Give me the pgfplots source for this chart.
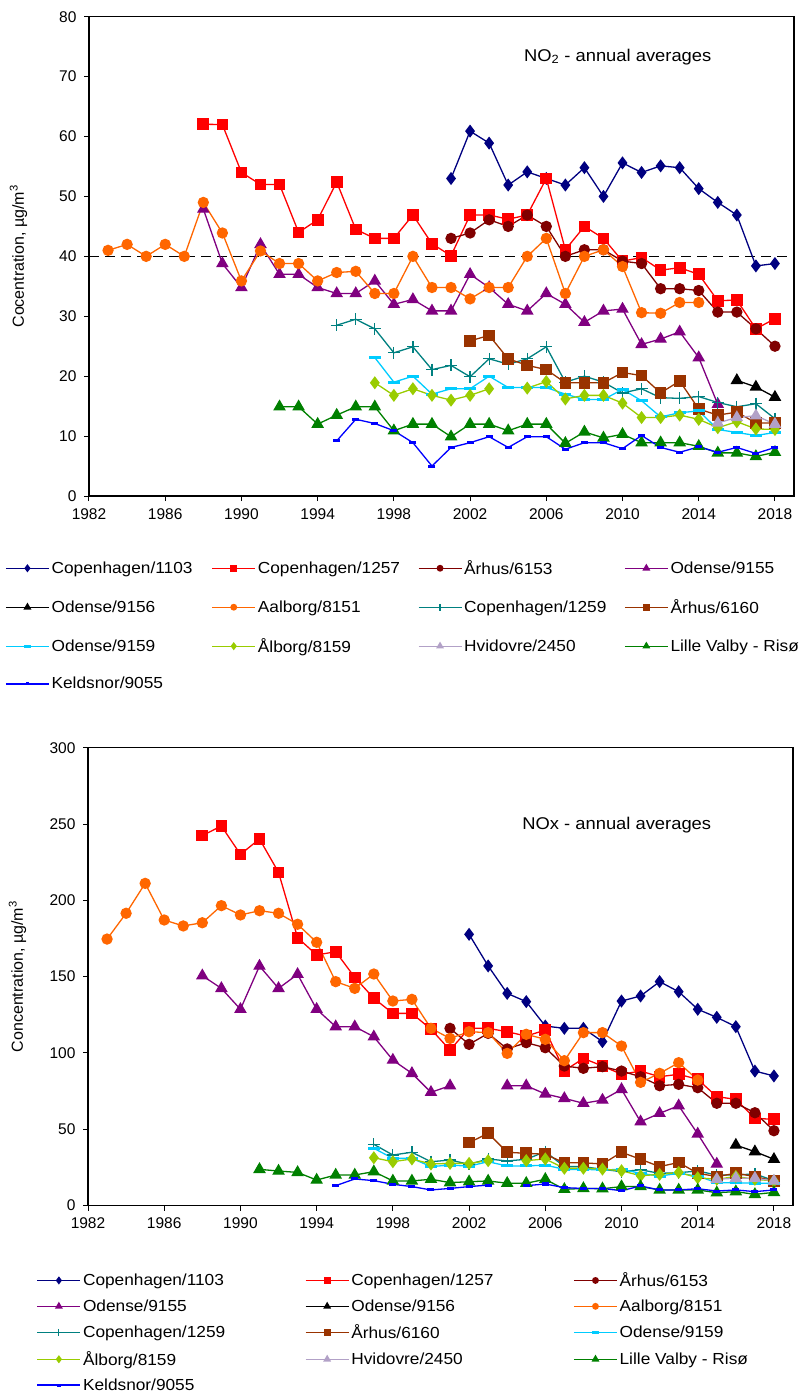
\documentclass[border=0pt]{standalone}
\usepackage{fontspec}
\setmainfont{Liberation Sans}
\newfontfamily\legfont{Liberation Sans}[FakeStretch=1.08]
\usepackage{pgfplots}
\pgfplotsset{compat=1.18}
\definecolor{cnavy}{HTML}{000080}
\definecolor{cred}{HTML}{FF0000}
\definecolor{cdred}{HTML}{800000}
\definecolor{cpurple}{HTML}{800080}
\definecolor{corange}{HTML}{FF6600}
\definecolor{cteal}{HTML}{008080}
\definecolor{cbrown}{HTML}{993300}
\definecolor{ccyan}{HTML}{00CCFF}
\definecolor{cygreen}{HTML}{99CC00}
\definecolor{clav}{HTML}{B2A1C7}
\definecolor{cgreen}{HTML}{008000}
\definecolor{cblue}{HTML}{0000FF}
\newcommand{\fs}{\fontsize{15.5}{17}\selectfont}
\newcommand{\lfs}{\legfont\fontsize{16}{18}\selectfont}
\newcommand{\tfs}{\legfont\fontsize{17}{19}\selectfont}
\pgfplotsset{
 base/.style={line width=1.3pt},
 sA/.style={base, color=cnavy, mark=diamond*, mark size=5.5pt, mark options={solid, fill=cnavy}},
 sB/.style={base, color=cred, mark=square*, mark size=5.2pt, mark options={solid, fill=cred}},
 sC/.style={base, color=cdred, mark=*, mark size=5pt, mark options={solid, fill=cdred}},
 sD/.style={base, color=cpurple, mark=triangle*, mark size=6pt, mark options={solid, fill=cpurple}},
 sE/.style={base, color=black, mark=triangle*, mark size=6pt, mark options={solid, fill=black}},
 sF/.style={base, color=corange, mark=*, mark size=5pt, mark options={solid, fill=corange}},
 sG/.style={base, color=cteal, mark=+, mark size=6pt, mark options={solid, line width=1.2pt}},
 sH/.style={base, color=cbrown, mark=square*, mark size=5.2pt, mark options={solid, fill=cbrown}},
 sI/.style={base, color=ccyan, mark=-, mark size=6pt, mark options={solid, line width=3pt}},
 sJ/.style={base, color=cygreen, mark=diamond*, mark size=5.5pt, mark options={solid, fill=cygreen}},
 sK/.style={base, color=clav, mark=triangle*, mark size=6pt, mark options={solid, fill=clav}},
 sL/.style={base, color=cgreen, mark=triangle*, mark size=6pt, mark options={solid, fill=cgreen}},
 sM/.style={base, color=cblue, mark=-, mark size=3.5pt, mark options={solid, line width=3pt}},
 myaxis/.style={scale only axis, width=705pt, xmin=1982, xmax=2019,
   xtick={1982,1986,...,2018}, minor x tick num=3, ymin=0,
   tick pos=left, tick align=outside, major tick length=5pt, minor tick length=5pt,
   every tick/.style={black, line width=1pt}, axis line style={line width=1.2pt},
   /pgf/number format/assume math mode=true, /pgf/number format/1000 sep={},
   tick label style={font=\fs}, yticklabel style={xshift=-4pt}, xticklabel style={yshift=-4pt},
   label style={font=\fontsize{16}{18}\selectfont}, unbounded coords=jump, clip=false,
   legend cell align=left,
   legend image code/.code={\draw[mark repeat=2,mark phase=2] plot coordinates {(0pt,0pt) (21.5pt,0pt) (43pt,0pt)};},
   legend image post style={/tikz/every mark/.append style={scale=0.55}},
   legend style={draw=none, fill=none, font=\lfs, inner sep=0pt}}
}
\begin{document}
\begin{tikzpicture}[x=1pt,y=1pt]
\path[use as bounding box] (0,0) rectangle (801,-1396);
% ---------------- NO2 ----------------
\begin{axis}[myaxis, at={(89pt,-496pt)}, anchor=south west, height=479.3pt, ymax=80, ytick={0,10,...,80},
  ylabel={Cocentration, µg/m\textsuperscript{3}}, ylabel style={at={(axis description cs:-0.1,0.5)}, anchor=center},
  legend columns=4, legend style={at={(axis description cs:-0.119,-0.13)}, anchor=north west, row sep=19.5pt}]
\addplot[forget plot, black, line width=1.5pt, dash pattern=on 10pt off 6pt] coordinates {(1982,40) (2019,40)};
\addplot[sA] coordinates {(2001,53.0)(2002,60.9)(2003,58.9)(2004,51.9)(2005,54.1)(2006,53.0)(2007,51.9)(2008,54.8)(2009,50.0)(2010,55.6)(2011,54.0)(2012,55.1)(2013,54.8)(2014,51.3)(2015,49.0)(2016,46.9)(2017,38.4)(2018,38.8)};
\addlegendentry{\makebox[158pt][l]{Copenhagen/1103}}
\addplot[sB] coordinates {(1988,62.05)(1989,62)(1990,54)(1991,52)(1992,52)(1993,44)(1994,46.1)(1995,52.4)(1996,44.5)(1997,43)(1998,43)(1999,46.9)(2000,42.1)(2001,40.1)(2002,46.9)(2003,46.9)(2004,46.2)(2005,46.9)(2006,53)(2007,41.1)(2008,45)(2009,43)(2010,39.2)(2011,39.8)(2012,37.7)(2013,38.1)(2014,37)(2015,32.6)(2016,32.7)(2017,27.9)(2018,29.6)};
\addlegendentry{\makebox[158pt][l]{Copenhagen/1257}}
\addplot[sC] coordinates {(2001,43)(2002,43.9)(2003,46.1)(2004,45)(2005,46.9)(2006,45)(2007,40)(2008,41.1)(2009,41.1)(2010,39.2)(2011,38.8)(2012,34.6)(2013,34.6)(2014,34.3)(2015,30.7)(2016,30.7)(2017,27.9)(2018,25.0)};
\addlegendentry{\makebox[158pt][l]{Århus/6153}}
\addplot[sD] coordinates {(1988,47.9)(1989,38.8)(1990,34.8)(1991,42)(1992,37)(1993,37)(1994,34.8)(1995,33.8)(1996,33.8)(1997,35.9)(1998,32)(1999,32.8)(2000,30.9)(2001,30.9)(2002,37)(2003,34.8)(2004,32)(2005,30.9)(2006,33.8)(2007,32)(2008,29)(2009,30.9)(2010,31.2)(2011,25.3)(2012,26.2)(2013,27.4)(2014,23.1)(2015,15.3)};
\addlegendentry{\makebox[158pt][l]{Odense/9155}}
\addplot[sE] coordinates {(2016,19.3)(2017,18.2)(2018,16.5)};
\addlegendentry{\makebox[158pt][l]{Odense/9156}}
\addplot[sF] coordinates {(1983,41)(1984,42)(1985,40)(1986,42)(1987,40)(1988,49)(1989,43.9)(1990,35.9)(1991,40.9)(1992,38.8)(1993,38.8)(1994,35.9)(1995,37.3)(1996,37.5)(1997,33.8)(1998,33.8)(1999,40)(2000,34.8)(2001,34.8)(2002,32.9)(2003,34.8)(2004,34.8)(2005,40)(2006,43)(2007,33.8)(2008,40)(2009,41.1)(2010,38.3)(2011,30.6)(2012,30.5)(2013,32.3)(2014,32.3)};
\addlegendentry{\makebox[158pt][l]{Aalborg/8151}}
\addplot[sG] coordinates {(1995,28.5)(1996,29.5)(1997,27.9)(1998,23.9)(1999,24.9)(2000,21.1)(2001,21.8)(2002,19.9)(2003,22.9)(2004,22.0)(2005,22.9)(2006,24.9)(2007,19.0)(2008,20.0)(2009,19.0)(2010,17.2)(2011,17.9)(2012,16.4)(2013,16.3)(2014,16.6)(2015,15.6)(2016,14.9)(2017,15.4)(2018,12.9)};
\addlegendentry{\makebox[158pt][l]{Copenhagen/1259}}
\addplot[sH] coordinates {(2002,25.9)(2003,26.8)(2004,22.9)(2005,21.8)(2006,21.1)(2007,18.9)(2008,18.9)(2009,18.9)(2010,20.6)(2011,20.1)(2012,17.2)(2013,19.2)(2014,14.5)(2015,13.5)(2016,14.0)(2017,12.2)(2018,12.2)};
\addlegendentry{\makebox[158pt][l]{Århus/6160}}
\addplot[sI] coordinates {(1997,23.1)(1998,19)(1999,20)(2000,17)(2001,17.9)(2002,17.9)(2003,20)(2004,18.1)(2005,18.1)(2006,18.1)(2007,17)(2008,16.1)(2009,16.1)(2010,17.8)(2011,15.9)(2012,13.2)(2013,13.9)(2014,14.2)(2015,11.1)(2016,10.6)(2017,10.1)(2018,10.6)};
\addlegendentry{\makebox[158pt][l]{Odense/9159}}
\addplot[sJ] coordinates {(1997,18.9)(1998,16.8)(1999,17.9)(2000,16.8)(2001,16.0)(2002,16.8)(2003,17.9)(2004,nan)(2005,18.0)(2006,19.1)(2007,16.2)(2008,16.8)(2009,16.8)(2010,15.5)(2011,13.1)(2012,13.1)(2013,13.5)(2014,12.8)(2015,11.4)(2016,12.4)(2017,11.2)(2018,11.1)};
\addlegendentry{\makebox[158pt][l]{Ålborg/8159}}
\addplot[sK] coordinates {(2015,12.2)(2016,13.1)(2017,13.4)(2018,12.0)};
\addlegendentry{\makebox[158pt][l]{Hvidovre/2450}}
\addplot[sL] coordinates {(1992,14.9)(1993,14.9)(1994,12.0)(1995,13.5)(1996,14.9)(1997,14.9)(1998,10.9)(1999,12)(2000,12)(2001,9.9)(2002,12)(2003,12)(2004,10.9)(2005,12)(2006,12)(2007,8.8)(2008,10.7)(2009,9.7)(2010,10.3)(2011,8.9)(2012,8.9)(2013,8.9)(2014,8.3)(2015,7.2)(2016,7.2)(2017,6.6)(2018,7.3)};
\addlegendentry{\makebox[158pt][l]{Lille Valby - Risø}}
\addplot[sM] coordinates {(1995,9.2)(1996,12.8)(1997,12.1)(1998,10.9)(1999,8.9)(2000,5.0)(2001,8.1)(2002,8.9)(2003,9.9)(2004,8.1)(2005,9.9)(2006,9.9)(2007,7.8)(2008,8.9)(2009,8.9)(2010,7.9)(2011,10.1)(2012,8.1)(2013,7.3)(2014,8.2)(2015,7.3)(2016,8.1)(2017,7.1)(2018,8.1)};
\addlegendentry{\makebox[158pt][l]{Keldsnor/9055}}
\node[font=\tfs] at (axis description cs:0.75,0.916) {NO\textsubscript{2} - annual averages};
\end{axis}
% ---------------- NOx ----------------
\begin{axis}[myaxis, at={(88pt,-1205.5pt)}, anchor=south west, height=457.8pt, ymax=300, ytick={0,50,...,300},
  ylabel={Concentration, µg/m\textsuperscript{3}}, ylabel style={at={(axis description cs:-0.1,0.5)}, anchor=center},
  legend columns=3, legend style={at={(axis description cs:-0.073,-0.142)}, anchor=north west, row sep=7.6pt}]
\addplot[sA] coordinates {(2002,177.7)(2003,157)(2004,139)(2005,133.6)(2006,117.6)(2007,116.1)(2008,116.1)(2009,107.4)(2010,134)(2011,137.3)(2012,146.7)(2013,140.1)(2014,128.6)(2015,123.3)(2016,117.2)(2017,88.1)(2018,84.9)};
\addlegendentry{\makebox[220pt][l]{Copenhagen/1103}}
\addplot[sB] coordinates {(1988,242.4)(1989,248.7)(1990,230.1)(1991,240.2)(1992,218.3)(1993,175.5)(1994,164.2)(1995,166.3)(1996,149.5)(1997,135.8)(1998,125.9)(1999,125.9)(2000,115.5)(2001,101.9)(2002,116.1)(2003,116.1)(2004,113.9)(2005,111)(2006,115)(2007,88.3)(2008,96.4)(2009,91.4)(2010,86)(2011,88.1)(2012,84.4)(2013,86)(2014,82.7)(2015,71.3)(2016,69.6)(2017,57.1)(2018,56.5)};
\addlegendentry{\makebox[220pt][l]{Copenhagen/1257}}
\addplot[sC] coordinates {(2001,116.1)(2002,105.6)(2003,112.8)(2004,102.6)(2005,106.7)(2006,103.4)(2007,91.4)(2008,89.9)(2009,91)(2010,88.1)(2011,84.4)(2012,78.5)(2013,79.4)(2014,77.2)(2015,67)(2016,67)(2017,60.8)(2018,49)};
\addlegendentry{\makebox[220pt][l]{Århus/6153}}
\addplot[sD] coordinates {(1988,150.6)(1989,142.3)(1990,128.6)(1991,156.9)(1992,142.3)(1993,151.5)(1994,128.6)(1995,117.2)(1996,117.2)(1997,110.6)(1998,95.3)(1999,86.6)(2000,74.2)(2001,78.5)(2002,nan)(2003,nan)(2004,78.5)(2005,78.5)(2006,73.1)(2007,70.2)(2008,67)(2009,69.1)(2010,76.1)(2011,54.9)(2012,60.4)(2013,65.4)(2014,46.9)(2015,27.2)};
\addlegendentry{\makebox[220pt][l]{Odense/9155}}
\addplot[sE] coordinates {(2016,39.6)(2017,35.3)(2018,30.3)};
\addlegendentry{\makebox[220pt][l]{Odense/9156}}
\addplot[sF] coordinates {(1983,174.6)(1984,191.5)(1985,211.1)(1986,187.1)(1987,183.2)(1988,185.3)(1989,196.5)(1990,190.4)(1991,193.2)(1992,191.5)(1993,184.3)(1994,172.5)(1995,146.7)(1996,142.3)(1997,151.7)(1998,134)(1999,135.1)(2000,116.1)(2001,109.5)(2002,113.9)(2003,113.3)(2004,99.7)(2005,112.2)(2006,108.9)(2007,94.9)(2008,113.3)(2009,113.3)(2010,104.5)(2011,80.7)(2012,86.6)(2013,93.6)(2014,82.2)};
\addlegendentry{\makebox[220pt][l]{Aalborg/8151}}
\addplot[sG] coordinates {(1997,40.1)(1998,33.1)(1999,34.9)(2000,28.7)(2001,29.8)(2002,27)(2003,30.5)(2004,29.2)(2005,30.3)(2006,35.3)(2007,25.5)(2008,25.5)(2009,23.7)(2010,22.2)(2011,23.4)(2012,21.1)(2013,21.5)(2014,22.6)(2015,20)(2016,20)(2017,20.7)(2018,16.3)};
\addlegendentry{\makebox[220pt][l]{Copenhagen/1259}}
\addplot[sH] coordinates {(2002,41.2)(2003,47.3)(2004,34.9)(2005,34.2)(2006,33.6)(2007,28)(2008,28)(2009,27.2)(2010,34.9)(2011,30.3)(2012,25.5)(2013,28.2)(2014,21.1)(2015,19)(2016,21.1)(2017,19)(2018,16.1)};
\addlegendentry{\makebox[220pt][l]{Århus/6160}}
\addplot[sI] coordinates {(1997,37.5)(1998,30.9)(1999,30.9)(2000,25.5)(2001,26.5)(2002,25.8)(2003,28.7)(2004,25.9)(2005,25.9)(2006,26.5)(2007,23.7)(2008,23.7)(2009,23.3)(2010,23.7)(2011,21.1)(2012,19.3)(2013,21.1)(2014,19.3)(2015,14.9)(2016,14.9)(2017,14.6)(2018,14.6)};
\addlegendentry{\makebox[220pt][l]{Odense/9159}}
\addplot[sJ] coordinates {(1997,31.3)(1998,28.7)(1999,30.5)(2000,27.2)(2001,27.6)(2002,27.6)(2003,29.4)(2004,nan)(2005,29.4)(2006,30.5)(2007,24.4)(2008,24.4)(2009,23.9)(2010,22.8)(2011,19.5)(2012,20.4)(2013,21.7)(2014,18.2)(2015,17.2)(2016,19)(2017,17.2)(2018,16.1)};
\addlegendentry{\makebox[220pt][l]{Ålborg/8159}}
\addplot[sK] coordinates {(2015,17.2)(2016,17.9)(2017,17.9)(2018,16.1)};
\addlegendentry{\makebox[220pt][l]{Hvidovre/2450}}
\addplot[sL] coordinates {(1991,23.7)(1992,22.6)(1993,21.7)(1994,16.7)(1995,20)(1996,20)(1997,22.2)(1998,16.1)(1999,16.1)(2000,17.2)(2001,15)(2002,15.6)(2003,16.1)(2004,14.6)(2005,14.6)(2006,17.2)(2007,10.6)(2008,11.2)(2009,11)(2010,12.4)(2011,12.4)(2012,10.2)(2013,10.2)(2014,10.2)(2015,8.4)(2016,9.1)(2017,7.3)(2018,8.6)};
\addlegendentry{\makebox[220pt][l]{Lille Valby - Risø}}
\addplot[sM] coordinates {(1995,13)(1996,17.4)(1997,16.3)(1998,13.9)(1999,12.4)(2000,10.2)(2001,11.2)(2002,12.4)(2003,13.4)(2004,nan)(2005,13)(2006,14.1)(2007,11.7)(2008,11.2)(2009,11.2)(2010,9.7)(2011,12.8)(2012,10.2)(2013,10.2)(2014,11)(2015,9.5)(2016,10.2)(2017,9.1)(2018,10.2)};
\addlegendentry{\makebox[220pt][l]{Keldsnor/9055}}
\node[font=\tfs] at (axis description cs:0.75,0.83) {NOx - annual averages};
\end{axis}
\end{tikzpicture}
\end{document}
